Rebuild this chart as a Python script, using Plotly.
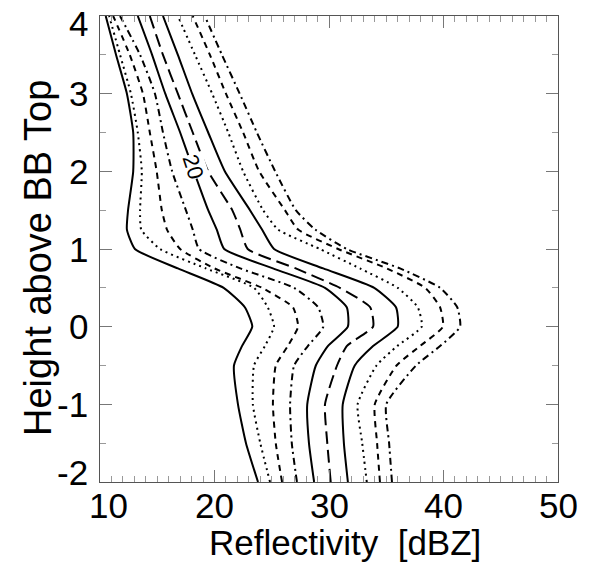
import plotly.graph_objects as go

# heights above bright-band top (shared by every contour)
heights = [-2, -1.5, -1, -0.5, -0.25, 0, 0.25, 0.5, 0.75, 1.0, 1.25, 1.5, 2, 2.5, 3, 3.5, 4]

# reflectivity (dBZ) of each contour at those heights, left to right
c1 = [23.8, 22.75, 22.05, 21.7, 22.4, 23.3, 22.65, 20.8, 16.8, 13.05, 12.35, 12.45, 12.9, 12.9, 12.35, 11.4, 10.5]
c2 = [24.85, 24.0, 23.35, 23.45, 24.4, 25.2, 24.65, 23.45, 19.25, 15.25, 13.6, 13.5, 13.65, 13.3, 12.7, 11.75, 10.8]
c3 = [25.9, 25.35, 25.1, 25.35, 26.4, 27.3, 26.85, 24.15, 20.0, 17.0, 15.85, 15.4, 14.95, 14.35, 13.75, 12.6, 11.15]
c4 = [27.2, 26.75, 26.6, 26.95, 28.15, 29.5, 29.05, 26.95, 22.25, 18.65, 18.1, 17.5, 16.3, 15.5, 14.8, 13.5, 11.75]
c5 = [28.7, 28.25, 28.1, 28.85, 29.9, 31.65, 31.55, 29.65, 25.1, 20.85, 20.2, 19.45, 18.2, 17.0, 15.7, 14.55, 13.3]
c6 = [30.15, 29.85, 29.65, 30.7, 31.55, 33.85, 33.6, 30.95, 27.1, 22.9, 22.25, 21.55, 19.45, 18.1, 16.8, 15.5, 14.35]
c7 = [31.65, 31.3, 31.2, 32.25, 33.85, 36.0, 35.85, 33.95, 29.5, 25.2, 24.15, 23.1, 20.9, 19.45, 18.05, 16.8, 15.5]
c8 = [33.3, 32.9, 32.5, 34.15, 35.95, 38.1, 37.75, 36.0, 32.7, 29.2, 25.55, 24.25, 22.5, 21.2, 19.8, 18.3, 16.8]
c9 = [34.45, 34.2, 34.0, 35.9, 37.95, 39.95, 39.7, 38.4, 35.05, 30.8, 27.3, 26.15, 23.9, 22.5, 21.0, 19.6, 18.1]
c10 = [35.5, 35.25, 35.0, 37.6, 39.7, 41.45, 41.2, 39.7, 36.2, 31.55, 28.8, 27.1, 25.3, 23.7, 22.2, 20.65, 19.15]

x_ticks = [10, 20, 30, 40, 50]
y_ticks = [-2, -1, 0, 1, 2, 3, 4]

curves = [c1, c2, c3, c4, c5, c6, c7, c8, c9, c10]
dashes = ["solid", "2px,4px", "6px,5px", "7px,4px,2px,4px", "solid",
          "13px,6px", "solid", "2px,4px", "6px,5px", "7px,4px,2px,4px"]

FONT = "Liberation Sans, Arial, Helvetica, sans-serif"
TICK_FONT = dict(size=35, color="black", family=FONT)

fig = go.Figure()
for vals, dash in zip(curves, dashes):
    fig.add_trace(go.Scatter(
        x=vals, y=heights, mode="lines",
        line=dict(color="black", width=2, dash=dash, shape="spline", smoothing=0.5),
        showlegend=False, hoverinfo="skip",
    ))

# contour label sitting on the fifth curve
fig.add_annotation(
    x=18.12, y=2.06, text="20", showarrow=False, textangle=72,
    font=dict(size=22, color="black", family=FONT),
    bgcolor="white", borderpad=0,
)

# tick labels drawn as annotations so the end ones can be nudged inwards (as in the original)
for v in x_ticks:
    fig.add_annotation(
        x=v, xref="x", y=0, yref="paper", text=str(v), showarrow=False,
        xanchor="center", yanchor="middle", yshift=-23,
        xshift=8 if v == x_ticks[0] else 0, font=TICK_FONT,
    )
for v in y_ticks:
    shift = 0
    if v == y_ticks[-1]:
        shift = -7
    elif v == y_ticks[0]:
        shift = 10
    fig.add_annotation(
        x=0, xref="paper", y=v, yref="y", text=str(v), showarrow=False,
        xanchor="right", yanchor="middle", xshift=-10, yshift=shift, font=TICK_FONT,
    )

# axis titles
fig.add_annotation(
    x=0.5, xref="paper", y=0, yref="paper", text="Reflectivity  [dBZ]", showarrow=False,
    xanchor="center", yanchor="middle", xshift=16, yshift=-60,
    font=dict(size=35, color="black", family=FONT),
)
fig.add_annotation(
    x=0, xref="paper", y=0.5, yref="paper", text="Height above BB Top", showarrow=False,
    textangle=-90, xanchor="center", yanchor="middle", xshift=-62, yshift=-9,
    font=dict(size=38, color="black", family=FONT),
)

axis_common = dict(
    showline=True, linecolor="#555", linewidth=1, mirror="allticks",
    ticks="inside", ticklen=12, tickcolor="#777", tickwidth=1,
    showgrid=False, zeroline=False, showticklabels=False,
)

fig.update_xaxes(
    range=[10, 50], tickvals=x_ticks,
    minor=dict(dtick=1, ticks="inside", ticklen=6, tickcolor="#999", showgrid=False),
    **axis_common,
)
fig.update_yaxes(
    range=[-2, 4], tickvals=y_ticks,
    minor=dict(dtick=0.5, ticks="inside", ticklen=6, tickcolor="#999", showgrid=False),
    **axis_common,
)

fig.update_layout(
    width=589, height=564,
    margin=dict(l=100, r=31, t=16, b=82),
    plot_bgcolor="white", paper_bgcolor="white",
)

# drop the browser's default page margin so the figure sits at the window's corner
fig.write_html(
    "out.html",
    config={"displayModeBar": False},
    post_script="document.body.style.margin='0';",
)
